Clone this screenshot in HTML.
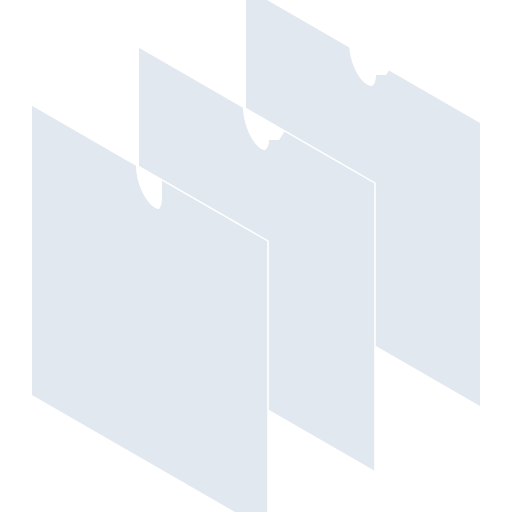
<!DOCTYPE html>
<html><head><meta charset="utf-8"><style>html,body{margin:0;padding:0;background:#fff;width:512px;height:512px;overflow:hidden;}svg{display:block}</style></head>
<body>
<svg width="512" height="512" viewBox="0 0 512 512" overflow="hidden">
<g>
<polygon points="246,0 267,0 480,123 480,406 246,271" fill="#e1e8f0"/>
<path d="M349,42 C349,65 362,86 372,86 C375,84 376,80 376,75 L386,75 L392,66 L360,48 Z" fill="#fff"/>
</g>
<g>
<polygon points="139,47 375,183 375,471 139,335" fill="#e1e8f0"/>
<polyline points="139,47 375,183 375,471" fill="none" stroke="#fff" stroke-width="1.5"/>
<path d="M243,107 C243,128 256,150 265,150 C268,148 269,144 269,140 L279,140 L285,131 L253,113 Z" fill="#fff"/>
</g>
<g>
<polygon points="32,105 268,241 268,512 235,512 32,395" fill="#e1e8f0"/>
<polyline points="32,105 268,241 268,512" fill="none" stroke="#fff" stroke-width="1.5"/>
<path d="M136,165 C136,188 150,209 159,209 C161,207 162,203 162,198 L162,180 Z" fill="#fff"/>
</g>
</svg>
</body></html>
